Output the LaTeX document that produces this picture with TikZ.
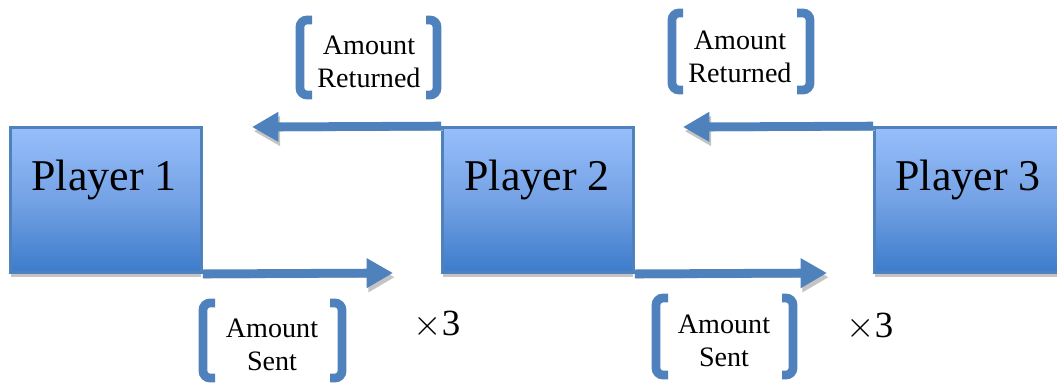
\documentclass[tikz,border=0pt]{standalone}
\usepackage{fontspec}
\setmainfont{Liberation Serif}
\usepackage{xcolor}
\usetikzlibrary{arrows.meta,shadows}
\definecolor{officeblue}{RGB}{79,129,189}
\definecolor{boxtop}{RGB}{151,190,250}
\definecolor{boxmid}{RGB}{116,162,229}
\definecolor{boxbottom}{RGB}{60,124,202}
\definecolor{shade}{RGB}{196,196,196}
\tikzstyle{player}=[minimum width=3.82cm, minimum height=2.9cm, inner sep=0pt, draw=officeblue, line width=1.6pt,
  top color=boxtop, bottom color=boxbottom, middle color=boxmid,
  drop shadow={shadow xshift=0pt, shadow yshift=-2.6pt, fill=shade, opacity=1}]
\tikzset{playertext/.style={font=\fontsize{25}{30}\selectfont, anchor=base}}
\tikzset{amount/.style={font=\fontsize{16}{18.7}\selectfont, align=center, inner sep=0pt}}
\tikzset{times/.style={font=\fontsize{21}{25}\selectfont, anchor=base}}
\tikzstyle{flow}=[line width=5pt, draw=officeblue, -{Triangle[length=15pt,width=16pt]},
  preaction={draw=shade, transform canvas={shift={(1pt,-2.4pt)}}}]
\tikzstyle{bracket}=[draw=officeblue, line width=5pt, rounded corners=4pt,
  preaction={draw=shade, transform canvas={shift={(0pt,-1.6pt)}}}]

\begin{document}
\begin{tikzpicture}[x=0.02cm,y=-0.02cm]
  \useasboundingbox (0,0) rectangle (1057,389);

  %% Players
  \draw (106,200) node[player] (P1) {};
  \draw (538,200) node[player] (P2) {};
  \draw (970,200) node[player] (P3) {};
  \draw (104,190) node[playertext] (P1t) {Player 1};
  \draw (537,190) node[playertext] (P2t) {Player 2};
  \draw (968,190) node[playertext] (P3t) {Player 3};

  %% Tips of the flows
  \coordinate (Ret1) at (252,127);
  \coordinate (Ret2) at (683,127);
  \coordinate (Sent1) at (393,273);
  \coordinate (Sent2) at (827,273);

  \draw[flow] (P2.north west) -- (Ret1);
  \draw[flow] (P3.north west) -- (Ret2);
  \draw[flow] (P1.south east) -- (Sent1);
  \draw[flow] (P2.south east) -- (Sent2);

  %% Labels
  \draw (369,62) node[amount] (R1) {Amount\\Returned};
  \draw (740,57) node[amount] (R2) {Amount\\Returned};
  \draw (272,345) node[amount] (S1) {Amount\\Sent};
  \draw (724,341) node[amount] (S2) {Amount\\Sent};

  \draw[bracket] (312,20) -- (300,20) -- (300,95) -- (312,95);
  \draw[bracket] (426,20) -- (437,20) -- (437,95) -- (426,95);
  \draw[bracket] (683,13) -- (672,13) -- (672,90) -- (683,90);
  \draw[bracket] (797,13) -- (810,13) -- (810,90) -- (797,90);
  \draw[bracket] (215,303) -- (203,303) -- (203,378) -- (215,378);
  \draw[bracket] (330,303) -- (342,303) -- (342,378) -- (330,378);
  \draw[bracket] (668,298) -- (656,298) -- (656,375) -- (668,375);
  \draw[bracket] (782,298) -- (793,298) -- (793,375) -- (782,375);

  %% Multiplier
  \draw (437,335) node[times] (X1) {$\times$3};
  \draw (870,337) node[times] (X2) {$\times$3};
\end{tikzpicture}
\end{document}
